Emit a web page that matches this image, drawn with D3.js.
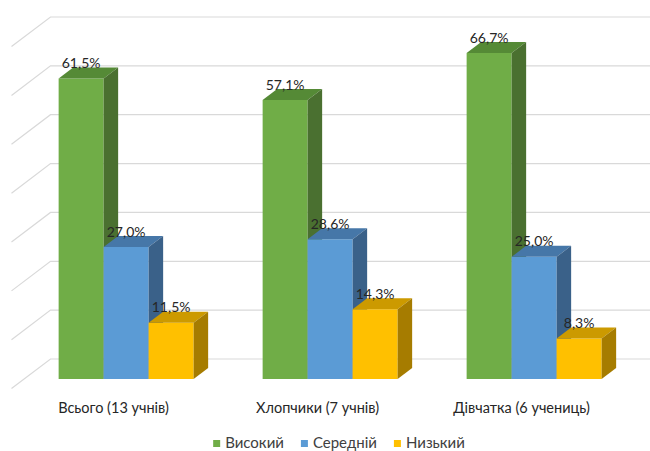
<!DOCTYPE html>
<html>
<head>
<meta charset="utf-8">
<script src="https://cdn.jsdelivr.net/npm/d3@7"></script>
<style>
  body { margin: 0; background: #fff; }
  svg { display: block; font-family: Lato, "Open Sans", sans-serif; }
</style>
</head>
<body>
<script>
// categories and series (percent)
var categories = ["Всього (13 учнів)", "Хлопчики (7 учнів)", "Дівчатка (6 учениць)"];
var seriesNames = ["Високий", "Середній", "Низький"];
var vysokyi = [61.5, 57.1, 66.7];
var serednii = [27.0, 28.6, 25.0];
var nyzkyi = [11.5, 14.3, 8.3];
var yTicks = [0, 10, 20, 30, 40, 50, 60, 70];

var seriesValues = [vysokyi, serednii, nyzkyi];
var colors = [
  {front: "#70ad47", top: "#558a36", side: "#4a7030"},
  {front: "#5b9bd5", top: "#4677a8", side: "#3a6189"},
  {front: "#ffc000", top: "#cc9a00", side: "#a67c00"}
];

var w = 650, h = 451;
// 3D depth: z=0 front of floor, z=1 back wall
var DX = 39, DY = 29.6,
    barZ0 = 0.324, barZ1 = 0.696;

var svg = d3.select("body").append("svg")
  .attr("width", w)
  .attr("height", h);

var x = d3.scaleBand().domain(categories).range([11.5, 623.5]);
var xInner = d3.scaleBand().domain(seriesNames).range([-67.5, 67.5]);
var y = d3.scaleLinear().domain([0, 70]).range([388.6, 388.6 - 70 * 4.886]);

function proj(px, v, z){
  return [px + DX * z, y(v) - DY * z];
}
function fmt(v){ return d3.format(".1f")(v).replace(".", ",") + "%"; }

// gridlines: left wall diagonal + back wall horizontal
var grid = svg.append("g").attr("stroke", "#d9d9d9").attr("fill", "none").attr("stroke-width", 1.2);
grid.selectAll("path").data(yTicks).enter().append("path")
  .attr("d", function(t){
    var a = proj(x.range()[0], t, 0), b = proj(x.range()[0], t, 1);
    return "M" + a + "L" + b + "L" + w + "," + b[1];
  });

// flatten the bars, drawn left to right
var bars = [];
categories.forEach(function(c, ci){
  seriesNames.forEach(function(s, si){
    bars.push({cat: c, ser: s, si: si, v: seriesValues[si][ci]});
  });
});

var g = svg.append("g");
var bar = g.selectAll("g.bar").data(bars).enter().append("g").attr("class", "bar");

function poly(pts){ return "M" + pts.join("L") + "Z"; }
function x0(d){ return x(d.cat) + x.bandwidth() / 2 + xInner(d.ser); }
function x1(d){ return x0(d) + xInner.bandwidth(); }

bar.append("path")
  .attr("fill", function(d){ return colors[d.si].front; })
  .attr("d", function(d){
    return poly([proj(x0(d), d.v, barZ0), proj(x1(d), d.v, barZ0), proj(x1(d), 0, barZ0), proj(x0(d), 0, barZ0)]);
  });
bar.append("path")
  .attr("fill", function(d){ return colors[d.si].top; })
  .attr("d", function(d){
    return poly([proj(x0(d), d.v, barZ0), proj(x1(d), d.v, barZ0), proj(x1(d), d.v, barZ1), proj(x0(d), d.v, barZ1)]);
  });
bar.append("path")
  .attr("fill", function(d){ return colors[d.si].side; })
  .attr("d", function(d){
    return poly([proj(x1(d), d.v, barZ0), proj(x1(d), d.v, barZ1), proj(x1(d), 0, barZ1), proj(x1(d), 0, barZ0)]);
  });

// value labels
svg.append("g").selectAll("text").data(bars).enter().append("text")
  .attr("x", function(d){ return proj((x0(d) + x1(d)) / 2, d.v, barZ0)[0]; })
  .attr("y", function(d){ return proj(0, d.v, barZ0)[1] - 10.5; })
  .attr("text-anchor", "middle")
  .attr("font-size", 14)
  .attr("fill", "#262626")
  .text(function(d){ return fmt(d.v); });

// category labels at the floor front
svg.append("g").selectAll("text").data(categories).enter().append("text")
  .attr("x", function(c){ return x(c) + x.bandwidth() / 2; })
  .attr("y", 413)
  .attr("text-anchor", "middle")
  .attr("font-size", 14.5)
  .attr("fill", "#262626")
  .text(function(c){ return c; });

// legend
var legend = svg.append("g");
var items = legend.selectAll("g").data(seriesNames).enter().append("g");
items.append("rect").attr("width", 7).attr("height", 7).attr("y", 440)
  .attr("fill", function(d, i){ return colors[i].front; });
items.append("text").attr("y", 447.5).attr("font-size", 15).attr("fill", "#404040")
  .text(function(d){ return d; });
var lx = 0;
items.each(function(){
  var it = d3.select(this);
  it.select("rect").attr("x", lx);
  it.select("text").attr("x", lx + 12);
  lx += 12 + it.select("text").node().getComputedTextLength() + 17;
});
lx -= 17;
legend.attr("transform", "translate(" + (339 - lx / 2) + ",0)");
</script>
</body>
</html>
